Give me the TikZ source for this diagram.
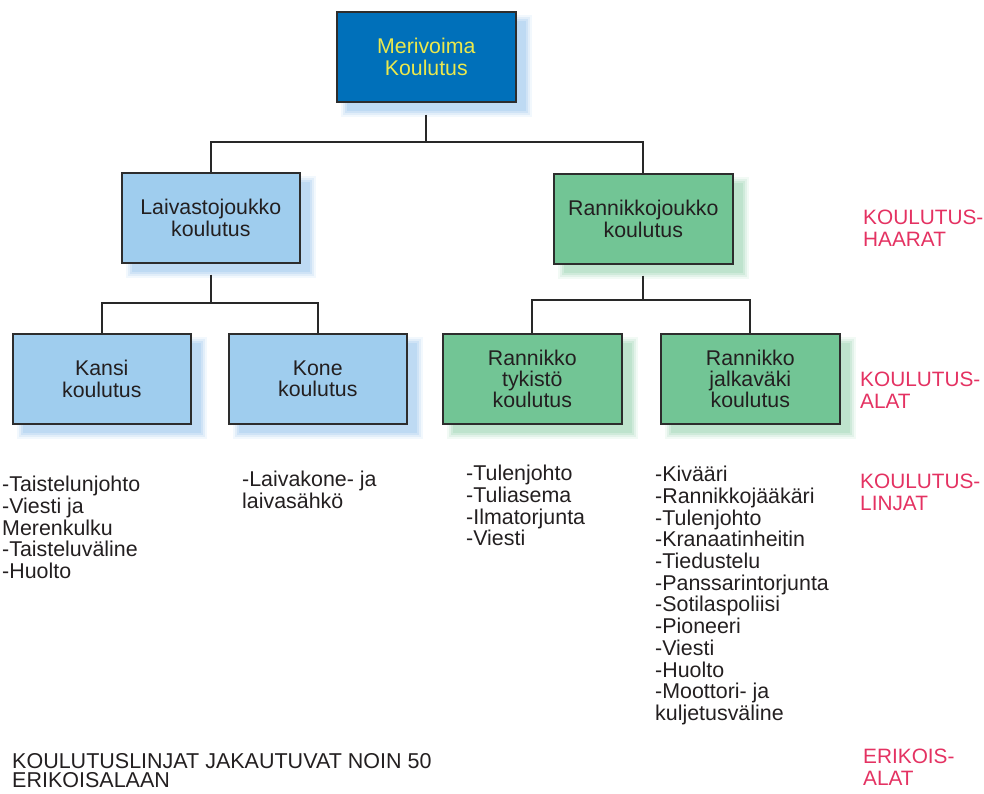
\documentclass[tikz,border=0pt]{standalone}
\usepackage{fontspec}
\setmainfont{Liberation Sans}
\usetikzlibrary{calc,backgrounds}
\definecolor{topblue}{RGB}{0,112,186}
\definecolor{yellowtxt}{RGB}{236,232,76}
\definecolor{lightblue}{RGB}{159,205,238}
\definecolor{shadowblue}{RGB}{150,195,235}
\definecolor{greenfill}{RGB}{114,197,149}
\definecolor{shadowgreen}{RGB}{150,210,175}
\definecolor{edgec}{RGB}{45,45,45}
\definecolor{linec}{RGB}{40,40,40}
\definecolor{txtc}{RGB}{35,31,32}
\definecolor{redc}{RGB}{228,50,98}
\tikzset{
  conn/.style={draw=linec, line width=1.8pt},
  orgbox/.style={draw=edgec, line width=1.6pt, minimum width=178pt, minimum height=90pt,
    inner sep=0pt, align=center, anchor=north west, text=txtc,
    font=\fontsize{21.3}{21.3}\selectfont},
  topbox/.style={orgbox, fill=topblue, text=yellowtxt},
  bluebox/.style={orgbox, fill=lightblue},
  greenbox/.style={orgbox, fill=greenfill},
  listtxt/.style={anchor=north west, inner sep=0pt, align=left, text=txtc,
    font=\fontsize{21.4}{21.7}\selectfont},
  redtxt/.style={anchor=north west, inner sep=0pt, align=left, text=redc,
    font=\fontsize{20.8}{21.5}\selectfont},
  bottxt/.style={anchor=north west, inner sep=0pt, align=left, text=txtc,
    font=\fontsize{21.5}{19.5}\selectfont}
}
\newcommand{\myshadow}[2]{%
  \foreach \e/\o in {5/0.12,3/0.18,1/0.25,-1/0.3}{%
    \fill[#2, opacity=\o] ($(#1.north west)+(10-\e,9-\e)$) rectangle ($(#1.south east)+(10+\e,9+\e)$);
  }%
}
\begin{document}
\begin{tikzpicture}[x=1pt,y=-1pt]
\useasboundingbox (0,0) rectangle (984,793);
% boxes
\node[topbox, minimum width=179pt] (top) at (336,11) {Merivoima\\Koulutus};
\node[bluebox] (lai) at (121,172) {Laivastojoukko\\koulutus};
\node[greenbox, minimum width=179pt] (ran) at (553,173) {Rannikkojoukko\\koulutus};
\node[bluebox] (kan) at (12,333) {Kansi\\koulutus};
\node[bluebox] (kon) at (228,333) {Kone\\koulutus};
\node[greenbox, minimum width=179pt] (tyk) at (442,333) {Rannikko\\tykistö\\koulutus};
\node[greenbox, minimum width=179pt] (jal) at (660,333) {Rannikko\\jalkaväki\\koulutus};
% shadows
\begin{scope}[on background layer]
\myshadow{top}{shadowblue}
\myshadow{lai}{shadowblue}
\myshadow{kan}{shadowblue}
\myshadow{kon}{shadowblue}
\myshadow{ran}{shadowgreen}
\myshadow{tyk}{shadowgreen}
\myshadow{jal}{shadowgreen}
\end{scope}
% connectors
\draw[conn] ($(top.south)+(0,12)$) -- ($(top.south)+(0,39)$) coordinate (tj);
\draw[conn] (tj) -| (lai.north);
\draw[conn] (tj) -| (ran.north);
\draw[conn] ($(lai.south)+(0,11)$) -- ($(lai.south)+(0,39)$) coordinate (lj);
\draw[conn] (lj) -| (kan.north);
\draw[conn] (lj) -| (kon.north);
\draw[conn] ($(ran.south)+(0,11)$) -- ($(ran.south)+(0,35)$) coordinate (rj);
\draw[conn] (rj) -| (tyk.north);
\draw[conn] (rj) -| (jal.north);
% lists
\node[listtxt] (l1) at (2,476) {-Taistelunjohto\\-Viesti ja\\Merenkulku\\-Taisteluväline\\-Huolto};
\node[listtxt] (l2) at (242,471) {-Laivakone- ja\\laivasähkö};
\node[listtxt] (l3) at (466,465) {-Tulenjohto\\-Tuliasema\\-Ilmatorjunta\\-Viesti};
\node[listtxt] (l4) at (655,466) {-Kivääri\\-Rannikkojääkäri\\-Tulenjohto\\-Kranaatinheitin\\-Tiedustelu\\-Panssarintorjunta\\-Sotilaspoliisi\\-Pioneeri\\-Viesti\\-Huolto\\-Moottori- ja\\kuljetusväline};
% red labels
\node[redtxt] (r1) at (863,210) {KOULUTUS-\\HAARAT};
\node[redtxt] (r2) at (860,372) {KOULUTUS-\\ALAT};
\node[redtxt] (r3) at (860,474) {KOULUTUS-\\LINJAT};
\node[redtxt] (r4) at (863,749) {ERIKOIS-\\ALAT};
% bottom note
\node[bottxt] (note) at (12,753) {KOULUTUSLINJAT JAKAUTUVAT NOIN 50\\ERIKOISALAAN};
\end{tikzpicture}
\end{document}
